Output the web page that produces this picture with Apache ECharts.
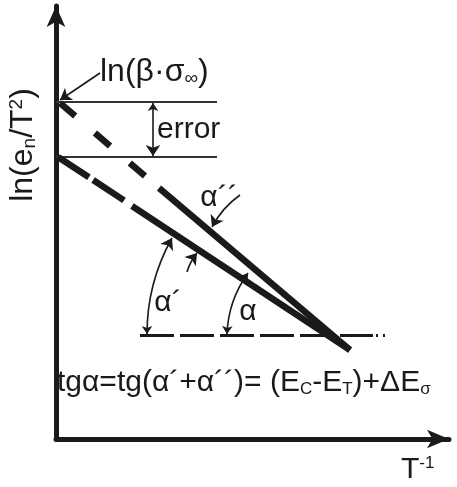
<!DOCTYPE html>
<html>
<head>
<meta charset="utf-8">
<script src="https://cdn.jsdelivr.net/npm/echarts@6/dist/echarts.min.js"></script>
<style>
  html, body { margin: 0; padding: 0; background: #fff; }
  #chart { width: 457px; height: 487px; }
</style>
</head>
<body>
<div id="chart"></div>
<script>
// plot frame: x runs along T^-1, y along ln(e_n/T^2), arbitrary units
const xMax = 393
const yMax = 433

// reference levels: ln(beta*sigma_inf) and the fitted intercept
const levelY = [337, 282]
const levelX = [0, 161]

// upper line (true slope): dashed extrapolation, then the measured part
const upperExtrap = [[4, 336], [89, 263]]
const upperFit = [[103, 251], [294, 89]]
// lower line (apparent slope)
const lowerExtrap = [[2, 282], [72, 236]]
const lowerFit = [[76, 233], [294, 89]]

// horizontal reference for the angles
const baseY = 104
const baseX = [84, 317]
const baseDotsX = [320, 330]

// error bar between the two levels
const errorX = 97

// pointer to ln(beta*sigma_inf)
const lnPointer = [[44, 366], [4, 339]]

// angle arcs: from, to, curveness
const arcAlphaP = [[91, 105], [116, 201], 0.13]   // alpha'
const arcAlpha = [[171, 105], [192, 166], 0.15]   // alpha
const arcAlphaPP = [
  [[184, 244], [156, 212], -0.12],
  [[131, 167], [141, 186], 0.1]
]

const ink = '#1a1a1a'
const font = 'Liberation Sans, Arial, sans-serif'

const chart = echarts.init(document.getElementById('chart'))

function txt(size, extra) {
  return Object.assign({ fontSize: size, fontFamily: font, fill: ink }, extra || {})
}
const rich = {
  m: txt(30),
  big: txt(32),
  sub: txt(17, { verticalAlign: 'bottom' }),
  bigsub: txt(19, { verticalAlign: 'bottom' }),
  sup: txt(17, { verticalAlign: 'top' }),
  bigsup: txt(19, { verticalAlign: 'top' })
}

function arcItem(a) {
  return { coords: [a[0], a[1]], lineStyle: { curveness: a[2] } }
}

chart.setOption({
  animation: false,
  grid: { left: 56, right: 8, top: 6, bottom: 48 },
  xAxis: {
    type: 'value',
    min: 0,
    max: xMax,
    axisLine: {
      symbol: ['none', 'arrow'],
      symbolSize: [14, 22],
      lineStyle: { color: ink, width: 5 }
    },
    axisTick: { show: false },
    axisLabel: { show: false },
    splitLine: { show: false }
  },
  yAxis: {
    type: 'value',
    min: 0,
    max: yMax,
    axisLine: {
      symbol: ['none', 'arrow'],
      symbolSize: [14, 21],
      lineStyle: { color: ink, width: 5 }
    },
    axisTick: { show: false },
    axisLabel: { show: false },
    splitLine: { show: false }
  },
  series: [
    {
      // dash-dot reference at the vertex
      type: 'lines',
      coordinateSystem: 'cartesian2d',
      silent: true,
      lineStyle: { color: ink, width: 3, opacity: 1, type: [34, 6] },
      data: [{ coords: [[baseX[0], baseY], [baseX[1], baseY]] }]
    },
    {
      type: 'lines',
      coordinateSystem: 'cartesian2d',
      silent: true,
      lineStyle: { color: ink, width: 3, opacity: 1, type: [2, 5] },
      data: [{ coords: [[baseDotsX[0], baseY], [baseDotsX[1], baseY]] }]
    },
    {
      type: 'lines',
      coordinateSystem: 'cartesian2d',
      silent: true,
      lineStyle: { color: '#333', width: 2, opacity: 1 },
      data: levelY.map(y => ({ coords: [[levelX[0], y], [levelX[1], y]] }))
    },
    {
      type: 'lines',
      coordinateSystem: 'cartesian2d',
      silent: true,
      lineStyle: { color: ink, width: 6.5, opacity: 1 },
      data: [
        { coords: upperExtrap, lineStyle: { type: [20, 26] } },
        { coords: lowerExtrap, lineStyle: { type: [37, 5] } },
        { coords: upperFit },
        { coords: lowerFit }
      ]
    },
    {
      // double-headed arrows: error bar, alpha' and alpha arcs
      type: 'lines',
      coordinateSystem: 'cartesian2d',
      silent: true,
      symbol: ['arrow', 'arrow'],
      symbolSize: [8, 11],
      lineStyle: { color: ink, width: 1.6, opacity: 1 },
      data: [
        { coords: [[errorX, levelY[0] - 1], [errorX, levelY[1] + 1]] },
        arcItem(arcAlphaP),
        arcItem(arcAlpha)
      ]
    },
    {
      // single-headed pointers
      type: 'lines',
      coordinateSystem: 'cartesian2d',
      silent: true,
      symbol: ['none', 'arrow'],
      symbolSize: [8, 11],
      lineStyle: { color: ink, width: 1.6, opacity: 1 },
      data: [{ coords: lnPointer }].concat(arcAlphaPP.map(arcItem))
    }
  ],
  graphic: [
    {
      type: 'text', x: 100, y: 72,
      style: { text: '{big|ln(β·σ}{bigsub|∞}{big|)}', rich: rich, verticalAlign: 'middle' }
    },
    {
      type: 'text', x: 157, y: 130,
      style: { text: '{m|error}', rich: rich, verticalAlign: 'middle' }
    },
    {
      type: 'text', x: 219, y: 198,
      style: { text: '{m|α´´}', rich: rich, align: 'center', verticalAlign: 'middle' }
    },
    {
      type: 'text', x: 168, y: 303,
      style: { text: '{m|α´}', rich: rich, align: 'center', verticalAlign: 'middle' }
    },
    {
      type: 'text', x: 248, y: 312,
      style: { text: '{m|α}', rich: rich, align: 'center', verticalAlign: 'middle' }
    },
    {
      type: 'text', x: 57, y: 383,
      style: {
        text: '{m|tgα=tg(α´+α´´)= (E}{sub|C}{m|-E}{sub|T}{m|)+ΔE}{sub|σ}',
        rich: rich,
        verticalAlign: 'middle'
      }
    },
    {
      type: 'text', x: 401, y: 470,
      style: { text: '{m|T}{sup|-1}', rich: rich, verticalAlign: 'middle' }
    },
    {
      type: 'text', x: 23, y: 145, rotation: Math.PI / 2,
      style: {
        text: '{big|ln(e}{bigsub|n}{big|/T}{bigsup|2}{big|)}',
        rich: rich,
        align: 'center',
        verticalAlign: 'middle'
      }
    }
  ]
})
</script>
</body>
</html>
